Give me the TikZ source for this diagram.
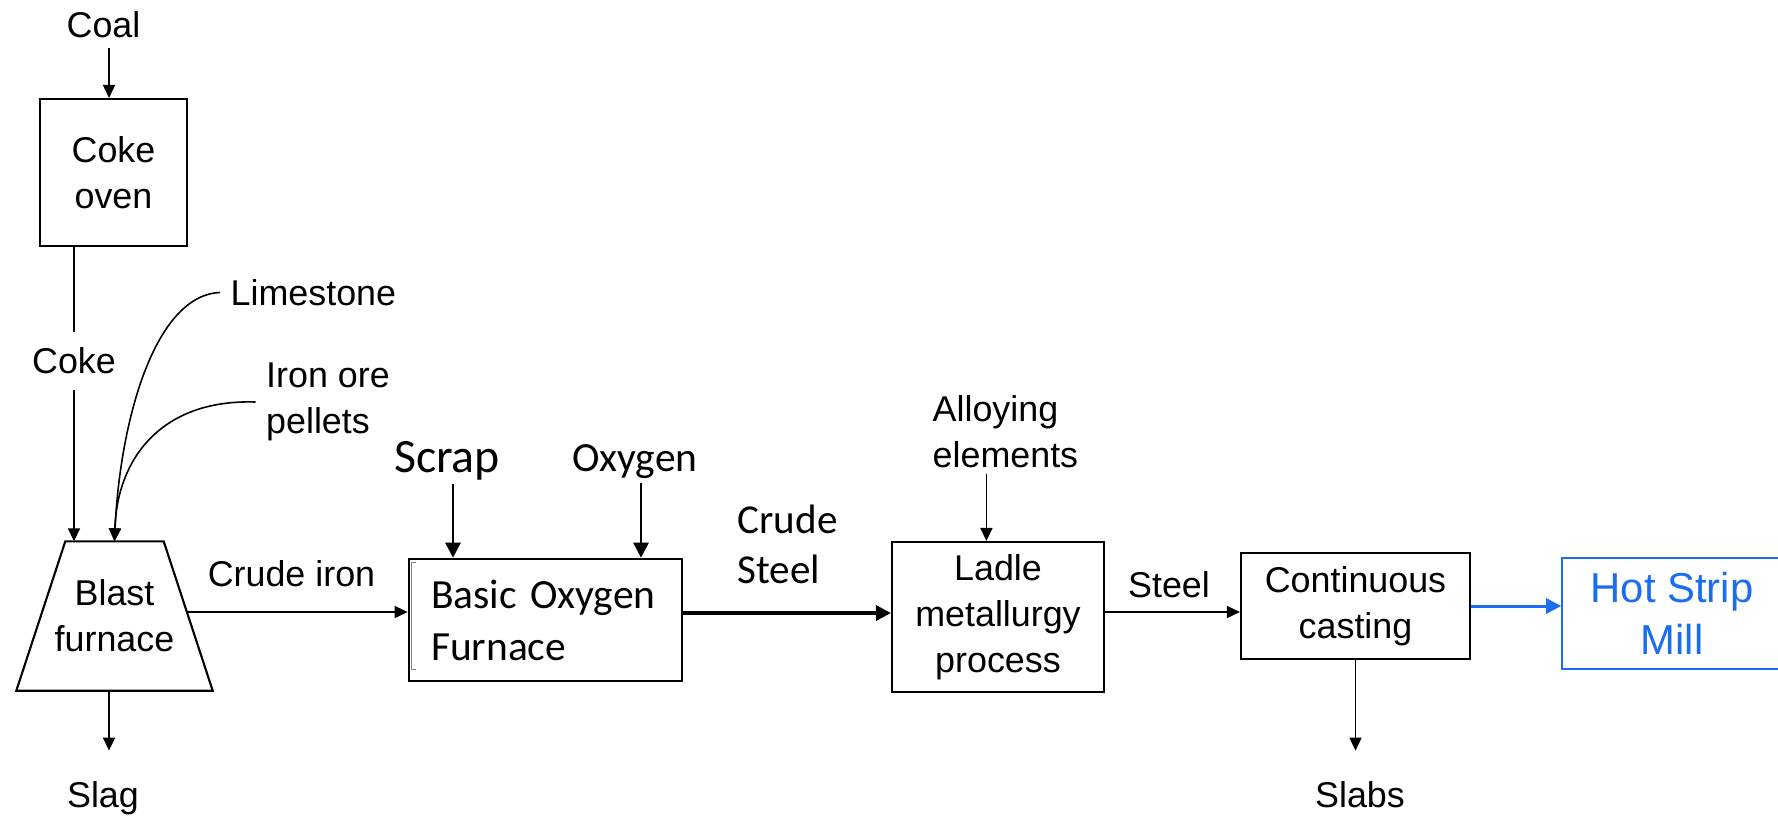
\documentclass[tikz,border=0pt]{standalone}
\usepackage{fontspec}
\setmainfont{Liberation Sans}
\newfontfamily\calibrifont{Carlito}
\usetikzlibrary{arrows.meta}

\definecolor{millblue}{RGB}{26,108,240}

\newcommand{\diagfont}{\fontsize{10.2}{13.1}\selectfont}
\newcommand{\millfont}{\fontsize{11.9}{14.8}\selectfont}
\newcommand{\boffont}{\calibrifont\fontsize{11.8}{14.8}\selectfont}
\newcommand{\scrapfont}{\calibrifont\fontsize{13.6}{16}\selectfont}
\newcommand{\steelfont}{\calibrifont\fontsize{11.7}{14.2}\selectfont}

\begin{document}
\begin{tikzpicture}[
    x=1cm, y=-1cm,
    >={Triangle[length=1.3mm,width=1.2mm]},
    box/.style = {
      draw,
      line width = 0.6pt,
      align = center,
      inner sep = 0pt,
      font = \diagfont
    },
    txt/.style = {
      align = center,
      inner sep = 1mm,
      font = \diagfont
    },
    flow/.style = {->, line width = 0.45pt},
    heavy/.style = {-{Triangle[length=1.5mm,width=1.5mm]}, line width = 0.8pt}
  ]
  \useasboundingbox (0,0) rectangle (17.78,8.16);

  \node[txt] (coal) at (1.035,0.245) {Coal};
  \node[box, minimum width=1.47cm, minimum height=1.47cm] (oven) at (1.135,1.725) {Coke\\oven};
  \node[txt, inner ysep=1.5mm] (coke) at (0.74,3.61) {Coke};
  \node[txt, anchor=west] (lime) at (2.20,2.925) {Limestone};
  \node[txt, anchor=west, align=left] (iron) at (2.555,4.02) {Iron ore\\pellets};

  \node[txt, minimum width=1.95cm, minimum height=1.48cm, inner sep=0pt] (blast) at (1.145,6.16) {Blast\\furnace};
  \draw[line width=0.6pt] (blast.south west) -- (blast.south east) -- ([xshift=-0.49cm]blast.north east)
    -- ([xshift=0.49cm]blast.north west) -- cycle;
  \node[txt] (crudeiron) at (2.915,5.74) {Crude iron};
  \node[txt] (slag) at (1.03,7.98) {Slag};

  \node[txt, font=\scrapfont, inner sep=0.3mm] (scrap) at (4.47,4.605) {Scrap};
  \node[txt, font=\boffont, inner sep=0.3mm] (oxygen) at (6.35,4.62) {Oxygen};
  \node[box, font=\boffont, line width=0.75pt, minimum width=2.73cm, minimum height=1.22cm,
    text width=2.29cm, align=left, inner xsep=0.22cm] (bof) at (5.455,6.20) {Basic Oxygen\\Furnace};
  \draw[gray, line width=0.3pt] ([shift={(0.08,0.05)}]bof.north west) -- ++(-0.04,0) -- ++(0,1.07) -- ++(0.04,0);
  \node[txt, font=\steelfont, anchor=west, align=left, inner sep=0.5mm] (crudesteel) at (7.32,5.445) {Crude\\Steel};

  \node[txt, anchor=west, align=left, inner sep=0.5mm] (alloy) at (9.27,4.32) {Alloying\\elements};
  \node[box, minimum width=2.12cm, minimum height=1.50cm] (ladle) at (9.98,6.17) {Ladle\\metallurgy\\process};
  \node[txt] (steel) at (11.69,5.845) {Steel};
  \node[box, minimum width=2.29cm, minimum height=1.06cm] (cast) at (13.555,6.06) {Continuous\\casting};
  \node[txt] (slabs) at (13.60,7.945) {Slabs};
  \node[box, draw=millblue, text=millblue, font=\millfont, line width=0.45pt,
    minimum width=2.20cm, minimum height=1.11cm] (mill) at (16.72,6.135) {Hot Strip\\Mill};

  \coordinate (coalout) at ([xshift=0.055cm]coal.south);
  \draw[flow] (coalout) -- (coalout |- oven.north);
  \draw[line width=0.45pt] (oven.south -| coke) -- (coke);
  \draw[flow] (coke) -- (coke |- blast.north);
  \draw[flow] (lime.west) .. controls (1.55,2.95) and (1.2,4.2) .. (blast.north);
  \draw[flow] (iron.west) .. controls (1.6,3.99) and (1.17,4.6) .. (blast.north);

  \coordinate (ironout) at ([xshift=-0.245cm,yshift=0.04cm]blast.east);
  \draw[flow] (ironout) -- (ironout -| bof.west);
  \coordinate (slagin) at ([xshift=0.06cm]slag.north);
  \draw[flow, shorten >=2mm] (slagin |- blast.south) -- (slagin);

  \coordinate (scrapout) at ([xshift=0.06cm]scrap.south);
  \draw[heavy] (scrapout) -- (scrapout |- bof.north);
  \coordinate (oxygenout) at ([xshift=0.06cm]oxygen.south);
  \draw[heavy] (oxygenout) -- (oxygenout |- bof.north);
  \coordinate (bofout) at ([yshift=0.07cm]bof.east);
  \draw[heavy, line width=1pt] (bofout) -- (bofout -| ladle.west);

  \coordinate (alloyout) at ([xshift=-0.19cm]alloy.south);
  \draw[flow] (alloyout) -- (alloyout |- ladle.north);
  \coordinate (ladleout) at ([yshift=0.05cm]ladle.east);
  \draw[flow] (ladleout) -- (ladleout -| cast.west);
  \draw[flow, shorten >=2mm] (cast.south) -- (cast.south |- slabs.north);
  \draw[heavy, millblue, line width=0.85pt] (cast.east) -- (cast.east -| mill.west);
\end{tikzpicture}
\end{document}
